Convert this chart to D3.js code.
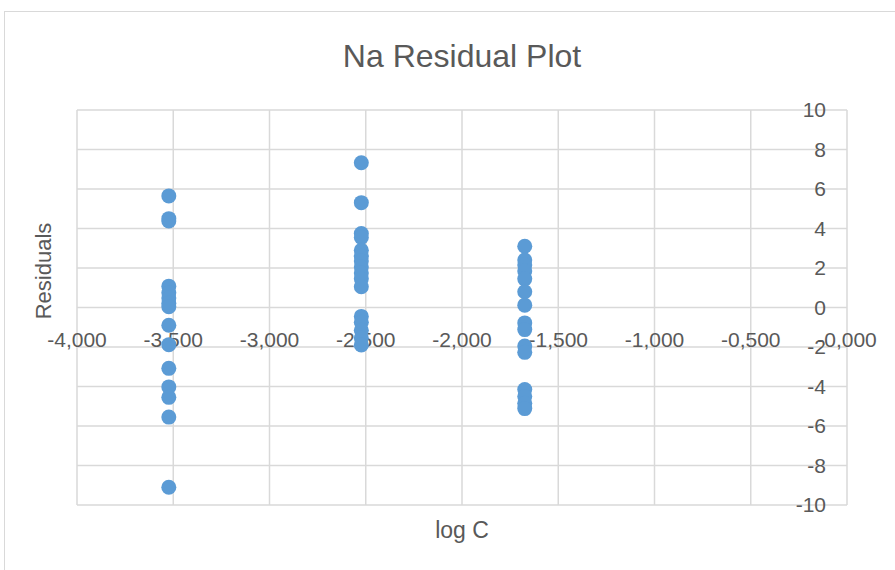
<!DOCTYPE html>
<html>
<head>
<meta charset="utf-8">
<script src="https://cdn.jsdelivr.net/npm/d3@7"></script>
<style>
  html, body { margin: 0; padding: 0; background: #fff; }
  svg { display: block; font-family: "Liberation Sans", Arial, sans-serif; }
</style>
</head>
<body>
<div id="chart"></div>
<script>
// log C levels (one per group of measurements)
const logCLevels = [-3.523, -2.523, -1.674];

// residuals, one array per log C level
const residualsLow = [5.65, 4.5, 4.38, 1.08, 0.75, 0.48, 0.22, 0.04, -0.9, -1.88, -3.08, -4.02, -4.55, -5.55, -9.1];
const residualsMid = [7.33, 5.31, 3.75, 3.55, 2.9, 2.6, 2.35, 2.05, 1.75, 1.45, 1.05, -0.45, -0.75, -1.15, -1.55, -1.9];
const residualsHigh = [3.1, 2.4, 2.15, 1.85, 1.45, 0.8, 0.12, -0.78, -1.12, -1.95, -2.27, -4.15, -4.5, -4.85, -5.12];

const xTicks = [-4, -3.5, -3, -2.5, -2, -1.5, -1, -0.5, 0];
const yTicks = [-10, -8, -6, -4, -2, 0, 2, 4, 6, 8, 10];

const points = [residualsLow, residualsMid, residualsHigh]
  .flatMap((vals, i) => vals.map(r => ({ x: logCLevels[i], y: r })));

const width = 895, height = 570;
const plot = { left: 77, right: 847, top: 110, bottom: 505 };
const textColor = "#595959";
const gridColor = "#d9d9d9";

const svg = d3.select("#chart").append("svg")
  .attr("width", width)
  .attr("height", height);

// chart border
svg.append("rect")
  .attr("x", 4.5).attr("y", 11.5)
  .attr("width", 1000).attr("height", 1000)
  .attr("fill", "none")
  .attr("stroke", gridColor);

const x = d3.scaleLinear().domain([-4, 0]).range([plot.left, plot.right]);
const y = d3.scaleLinear().domain([-10, 10]).range([plot.bottom, plot.top]);

const fmtX = v => "-" + Math.abs(v).toFixed(3).replace(".", ",");

// gridlines
const grid = svg.append("g");
grid.selectAll("line.v")
  .data(xTicks)
  .join("line")
  .attr("x1", d => x(d)).attr("x2", d => x(d))
  .attr("y1", plot.top).attr("y2", plot.bottom)
  .attr("stroke", gridColor).attr("stroke-width", 1.5);
grid.selectAll("line.h")
  .data(yTicks)
  .join("line")
  .attr("x1", plot.left).attr("x2", plot.right)
  .attr("y1", d => y(d)).attr("y2", d => y(d))
  .attr("stroke", gridColor).attr("stroke-width", 1.5);

// x tick labels sit below the y = 0 line
svg.append("g")
  .selectAll("text")
  .data(xTicks)
  .join("text")
  .attr("x", d => x(d))
  .attr("y", y(0) + 39)
  .attr("text-anchor", "middle")
  .attr("fill", textColor)
  .attr("font-size", 21)
  .text(fmtX);

// dots
svg.append("g")
  .selectAll("circle")
  .data(points)
  .join("circle")
  .attr("cx", d => x(d.x))
  .attr("cy", d => y(d.y))
  .attr("r", 7.5)
  .attr("fill", "#5b9bd5");

// y tick labels sit left of the x = 0 line
svg.append("g")
  .selectAll("text")
  .data(yTicks)
  .join("text")
  .attr("x", x(0) - 21)
  .attr("y", d => y(d))
  .attr("dy", "0.35em")
  .attr("text-anchor", "end")
  .attr("fill", textColor)
  .attr("font-size", 21)
  .text(d => d);

// title
svg.append("text")
  .attr("x", (plot.left + plot.right) / 2)
  .attr("y", 67)
  .attr("text-anchor", "middle")
  .attr("fill", textColor)
  .attr("font-size", 32)
  .text("Na Residual Plot");

// axis titles
svg.append("text")
  .attr("x", (plot.left + plot.right) / 2)
  .attr("y", 538)
  .attr("text-anchor", "middle")
  .attr("fill", textColor)
  .attr("font-size", 23)
  .text("log C");

svg.append("text")
  .attr("transform", "translate(51, 271) rotate(-90)")
  .attr("text-anchor", "middle")
  .attr("fill", textColor)
  .attr("font-size", 22)
  .text("Residuals");
</script>
</body>
</html>
